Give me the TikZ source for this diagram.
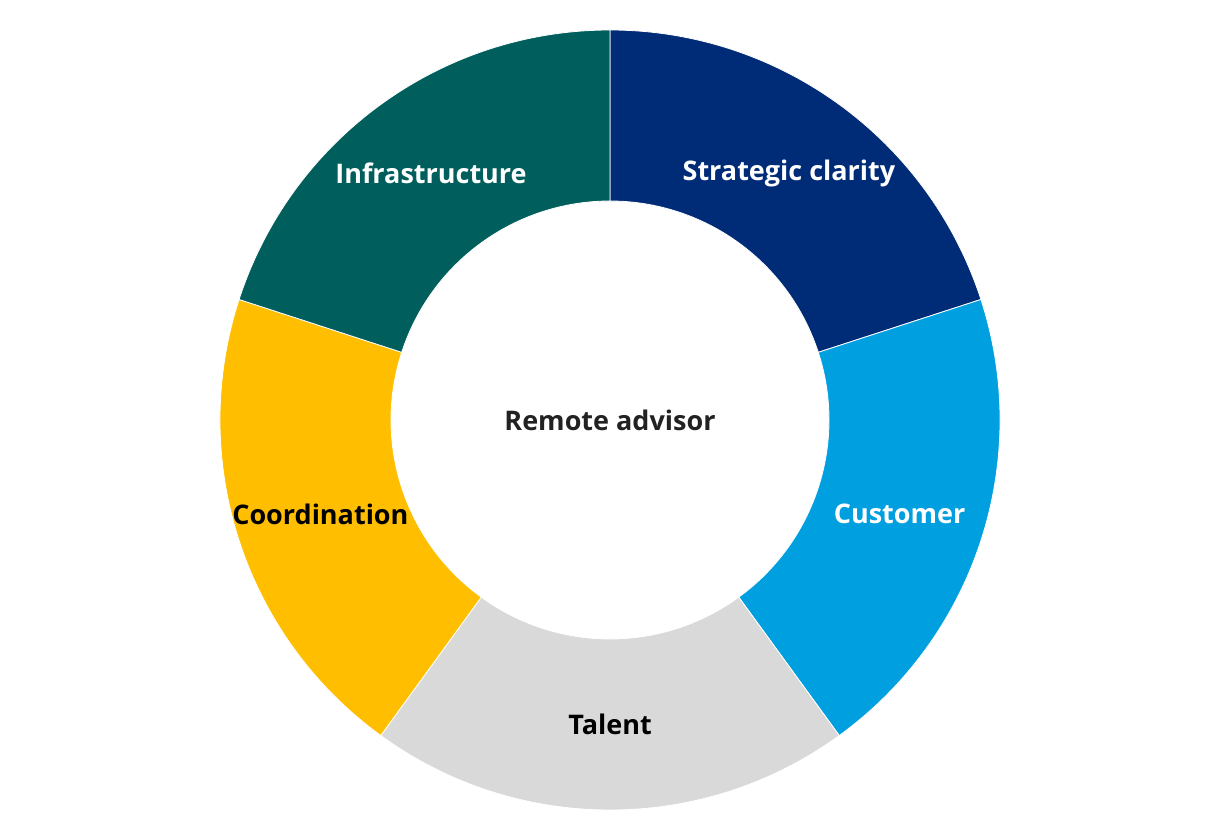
\documentclass[tikz,border=0pt]{standalone}
\usepackage{fontspec}
\setmainfont{Open Sans}
\definecolor{cStrat}{HTML}{002B76}
\definecolor{cCust}{HTML}{009FDF}
\definecolor{cTalent}{HTML}{D9D9D9}
\definecolor{cCoord}{HTML}{FFBE00}
\definecolor{cInfra}{HTML}{005F5C}
\definecolor{cCenter}{HTML}{222222}
\begin{document}
\begin{tikzpicture}[x=1pt,y=1pt,
  seg/.style={draw=white,line width=0.8pt,line join=miter},
  lbl/.style={font=\bfseries\fontsize{27}{32}\selectfont,text=white},
  dlbl/.style={font=\bfseries\fontsize{27}{32}\selectfont,text=black}]
\useasboundingbox (0,0) rectangle (1220,820);
\coordinate (c) at (610,400);
\def\Ro{390}\def\Ri{219}
\foreach \s/\col in {90/cStrat,18/cCust,-54/cTalent,-126/cCoord,-198/cInfra}{
  \pgfmathsetmacro{\e}{\s-72}
  \fill[\col,seg] ([shift={(\s:\Ro)}]c) arc[start angle=\s,end angle=\e,radius=\Ro]
    -- ([shift={(\e:\Ri)}]c) arc[start angle=\e,end angle=\s,radius=\Ri] -- cycle;
}
\node[lbl] (strat) at ([shift={(54:304.5)}]c) {Strategic clarity};
\node[lbl] (cust) at ([shift={(-18:304.5)}]c) {Customer};
\node[dlbl] (talent) at ([shift={(-90:304.5)}]c) {Talent};
\node[dlbl] (coord) at ([shift={(198:304.5)}]c) {Coordination};
\node[lbl] (infra) at ([shift={(126:304.5)}]c) {Infrastructure};
\node[font=\bfseries\fontsize{27}{32}\selectfont,text=cCenter] (center) at (c) {Remote advisor};
\end{tikzpicture}
\end{document}
